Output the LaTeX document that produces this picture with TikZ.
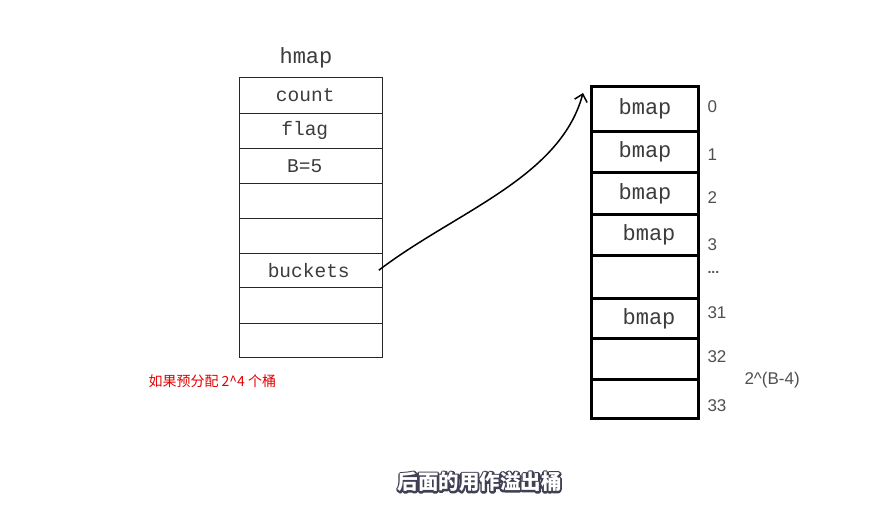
\documentclass[tikz,border=0pt]{standalone}
\usepackage{fontspec}
\setmonofont{Liberation Mono}
\newfontfamily\numfont{Liberation Sans}
\newfontfamily\cjk{Noto Sans CJK SC}
\usetikzlibrary{arrows.meta}
\definecolor{txtgray}{HTML}{3C3C3C}
\definecolor{numgray}{HTML}{505050}
\tikzset{
  lcell/.style={draw=black!85, line width=1.1pt, inner sep=0pt, anchor=north west,
    minimum width=143pt, font=\ttfamily\fontsize{19.5}{20}\selectfont, text=txtgray},
  rcell/.style={draw=black, line width=3pt, inner sep=0pt, anchor=north west,
    minimum width=107pt, font=\ttfamily\fontsize{22}{23}\selectfont, text=txtgray},
  idx/.style={font=\numfont\fontsize{17}{18}\selectfont, text=numgray, anchor=west},
  subtext/.style={font=\cjk\bfseries\fontsize{20.5}{21}\selectfont, text=white},
}
\newcommand{\outlinedtext}[1]{\rlap{\special{pdf:literal direct 1 Tr 3.6 w 1 j 0.25 0.25 0.33 RG}#1\special{pdf:literal direct 0 Tr}}#1}
\begin{document}
\begin{tikzpicture}[x=1pt,y=-1pt]
\useasboundingbox[fill=white] (0,0) rectangle (891,521);
% hmap title
\node[font=\ttfamily\fontsize{22}{23}\selectfont, text=txtgray] (title) at (306,58) {hmap};
% left table
\node[lcell, minimum height=35.4pt] (l1) at (238.7,77.3) {\hspace*{-11pt}count};
\node[lcell, minimum height=35pt] (l2) at (238.7,112.7) {\hspace*{-12pt}flag};
\node[lcell, minimum height=35pt] (l3) at (238.7,147.7) {\hspace*{-12pt}B=5};
\node[lcell, minimum height=35pt] (l4) at (238.7,182.7) {};
\node[lcell, minimum height=35pt] (l5) at (238.7,217.7) {};
\node[lcell, minimum height=34pt] (l6) at (238.7,252.7) {\hspace*{-4pt}buckets};
\node[lcell, minimum height=36pt] (l7) at (238.7,286.7) {};
\node[lcell, minimum height=34pt] (l8) at (238.7,322.7) {};
% right table
\node[rcell, minimum height=45pt] (r1) at (590,85) {bmap};
\node[rcell, minimum height=40.7pt] (r2) at (590,130) {bmap};
\node[rcell, minimum height=42.6pt] (r3) at (590,170.7) {bmap};
\node[rcell, minimum height=40.7pt] (r4) at (590,213.3) {\hspace*{8pt}bmap};
\node[rcell, minimum height=42.7pt] (r5) at (590,254) {};
\node[rcell, minimum height=40.6pt] (r6) at (590,296.7) {\hspace*{8pt}bmap};
\node[rcell, minimum height=41pt] (r7) at (590,337.3) {};
\node[rcell, minimum height=38.4pt] (r8) at (590,378.3) {};
% indices
\node[idx] (i0) at (704,107) {0};
\node[idx] (i1) at (704,155) {1};
\node[idx] (i2) at (704,198) {2};
\node[idx] (i3) at (704,245) {3};
\node[idx, font=\numfont\bfseries\fontsize{14}{15}\selectfont] (idots) at (704,272) {...};
\node[idx] (i31) at (704,313) {31};
\node[idx] (i32) at (704,357) {32};
\node[idx] (iexp) at (741,380) {2\^{}(B-4)};
\node[idx] (i33) at (704,406) {33};
% arrow
\coordinate (as) at ([xshift=-4pt]l6.east);
\coordinate (ae) at ([xshift=-7pt,yshift=-8pt]r1.north west);
\draw[line width=1.5pt, -{Straight Barb[length=7pt,width=13pt]}]
  (as) .. controls (455,212) and (560,178) .. (ae);
% red note
\node[font=\cjk\fontsize{14}{15}\selectfont, text=red!90!black, anchor=west] (note) at (145,381) {如果预分配 2\^{}4 个桶};
% subtitle with outline
\node[subtext] (sub) at (479.5,482) {\outlinedtext{后面的用作溢出桶}};
\end{tikzpicture}
\end{document}
